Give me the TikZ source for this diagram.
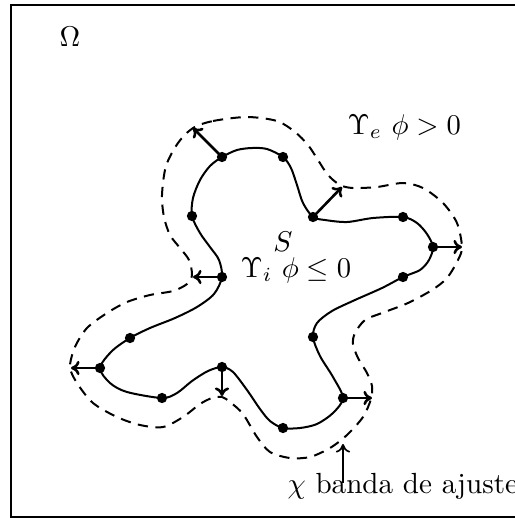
\documentclass[tikz,border=0pt]{standalone}
\usetikzlibrary{arrows.meta}
\begin{document}
\begin{tikzpicture}[x=0.35pt,y=-0.35pt,
  dot/.style={circle,fill=black,inner sep=0pt,minimum size=3.6pt},
  normal/.style={line width=0.9pt,-{To[length=3pt,width=5pt]}, shorten <=-1pt},
  band/.style={line width=0.7pt,dash pattern=on 3.6pt off 2.6pt},
  curve/.style={line width=0.7pt},
  lbl/.style={inner sep=0pt}]
\useasboundingbox (0,0) rectangle (515,518);
\clip (0,0) rectangle (515,518);
\draw[line width=0.75pt] (11,5) rectangle (530,517);

% outer dashed band
\draw[band] plot[smooth cycle,tension=0.5] coordinates {
 (193,128) (213,121) (247,117) (277,121) (295,132) (308,145) (318,160) (328,175)
 (340,185) (353,188) (377,187) (403,183) (423,188) (443,203) (457,223) (462,247)
 (458,260) (447,278) (432,290) (408,303) (382,313) (365,320) (355,333) (353,344)
 (358,358) (367,373) (372,386) (371,399) (363,417) (347,435) (330,448) (310,457)
 (290,458) (270,452) (257,437) (243,414) (230,402) (222,397) (212,398) (200,404)
 (183,417) (163,427) (140,425) (117,417) (93,403) (77,383) (70,367) (75,347)
 (87,328) (107,313) (127,302) (150,295) (173,291) (187,284) (192,275) (189,260)
 (180,248) (170,235) (164,217) (162,195) (166,166) (178,143)};

% interface S
\draw[curve] plot[smooth cycle,tension=0.5] coordinates {
 (222,157) (237,150) (252,148) (267,149) (283,157) (291,168) (297,185) (303,203)
 (313,217) (325,220) (347,222) (373,218) (403,217) (417,223) (427,234) (433,247)
 (429,260) (420,270) (403,277) (382,288) (355,300) (332,311) (317,323) (313,337)
 (320,356) (333,377) (343,398) (333,413) (317,424) (300,428) (283,428) (270,421)
 (260,409) (247,390) (233,372) (222,367) (208,371) (192,381) (177,393) (162,398)
 (127,392) (110,383) (100,368) (112,351) (130,338) (150,328) (175,318) (197,307)
 (214,294) (222,277) (219,260) (210,247) (200,233) (192,216) (193,198) (200,180)
 (210,166)};

% points on S
\node[dot] (p1) at (222,157) {};
\node[dot] (p2) at (283,157) {};
\node[dot] (p3) at (313,217) {};
\node[dot] (p4) at (403,217) {};
\node[dot] (p5) at (433,247) {};
\node[dot] (p6) at (403,277) {};
\node[dot] (p7) at (313,337) {};
\node[dot] (p8) at (343,398) {};
\node[dot] (p9) at (283,428) {};
\node[dot] (p10) at (222,367) {};
\node[dot] (p11) at (162,398) {};
\node[dot] (p12) at (100,368) {};
\node[dot] (p13) at (130,338) {};
\node[dot] (p14) at (222,277) {};
\node[dot] (p15) at (192,216) {};

% normal ends on the band
\coordinate (n1) at (193,128);
\coordinate (n3) at (342,187);
\coordinate (n5) at (462,247);
\coordinate (n8) at (372,398);
\coordinate (n10) at (222,396);
\coordinate (n12) at (71,368);
\coordinate (n14) at (193,277);

\draw[normal] (p1) -- (n1);
\draw[normal] (p3) -- (n3);
\draw[normal] (p5) -- (n5);
\draw[normal] (p8) -- (n8);
\draw[normal] (p10) -- (n10);
\draw[normal] (p12) -- (n12);
\draw[normal] (p14) -- (n14);

% labels
\node (omega) at (70,37) {$\Omega$};
\node[lbl,anchor=base west] (ext) at (347,134) {$\Upsilon_e\ \phi>0$};
\node[lbl] (s) at (283,242) {$S$};
\node[lbl,anchor=base west] (int) at (240,277) {$\Upsilon_i\ \phi\le 0$};
\node[lbl,anchor=base west,scale=1.02] (chi) at (287,493) {$\chi$ banda de ajuste};
\coordinate (chistart) at (343,483);
\coordinate (chiend) at (343,444);
\draw[line width=0.6pt,-{To[length=3pt,width=5pt]}] (chistart) -- (chiend);
\end{tikzpicture}
\end{document}
